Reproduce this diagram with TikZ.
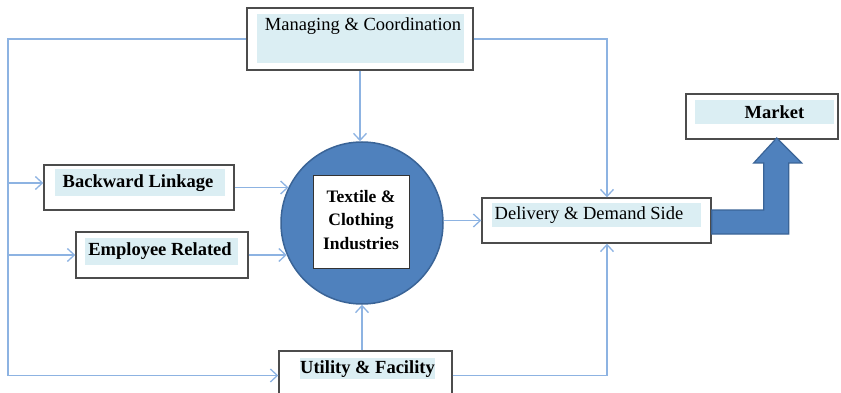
\documentclass[tikz,border=0pt]{standalone}
\usepackage{fontspec}
\setmainfont{Liberation Serif}
\usetikzlibrary{arrows.meta}
\definecolor{linkblue}{HTML}{8DB3E2}
\definecolor{tintblue}{HTML}{DBEEF3}
\definecolor{hubblue}{HTML}{4F81BD}
\definecolor{hubedge}{HTML}{3A6497}
\tikzset{
  box/.style={draw=black!70, line width=1.4pt, fill=white},
  tint/.style={fill=tintblue, inner sep=0pt},
  word/.style={font=\fontsize{18.5}{22}\selectfont, inner sep=0pt},
  boldword/.style={font=\fontsize{18.5}{22}\selectfont\bfseries, inner sep=0pt},
  link/.style={draw=linkblue, line width=1.3pt, -{Straight Barb[length=7pt,width=13pt]}},
  trunk/.style={draw=linkblue, line width=1.3pt},
}
\begin{document}
\begin{tikzpicture}[x=1pt,y=-1pt]
\useasboundingbox (0,0) rectangle (841,393);
% outer boxes
\node(Managing) [box, minimum width=226pt, minimum height=62pt] at (360,39)     {};
\node(Backward) [box, minimum width=190pt, minimum height=45pt] at (139,187.5)  {};
\node(Employee) [box, minimum width=172pt, minimum height=46pt] at (162,255)    {};
\node(Delivery) [box, minimum width=229pt, minimum height=45pt] at (596.5,220.5) {};
\node(Market)   [box, minimum width=152pt, minimum height=45pt] at (762,116.5)  {};
\node(Utility)  [box, minimum width=173pt, minimum height=49pt] at (365.5,375.5) {};
% tinted strips
\node(ManagingTint) [tint, minimum width=207pt, minimum height=49pt] at (360.5,38.5) {};
\node(BackwardTint) [tint, minimum width=170pt, minimum height=27pt] at (140,182.5)  {};
\node(EmployeeTint) [tint, minimum width=153pt, minimum height=27pt] at (161.5,251.5) {};
\node(DeliveryTint) [tint, minimum width=209pt, minimum height=24pt] at (596.5,215)  {};
\node(MarketTint)   [tint, minimum width=139pt, minimum height=24pt] at (764.5,112)  {};
\node(UtilityTint)  [tint, minimum width=135pt, minimum height=21pt] at (367.5,368.5) {};
% texts
\node[word]     at (363,26)    {Managing \& Coordination};
\node[boldword] at (138,183)   {Backward Linkage};
\node[boldword] at (160,251)   {Employee Related};
\node[word]     at (589,215)   {Delivery \& Demand Side};
\node[boldword] at (774.5,112) {Market};
\node[boldword] at (367.5,369) {Utility \& Facility};
% hub
\node(Hub) [circle, fill=hubblue, draw=hubedge, line width=1.5pt, minimum size=162pt, inner sep=0pt] at (362,223) {};
\node(Textile) [draw=black!80, line width=1pt, fill=white, minimum width=96pt, minimum height=92pt] at (361,222) {};
\node[boldword, font=\fontsize{17.5}{23.5}\selectfont\bfseries, align=center] at (361,220) {Textile \&\\Clothing\\Industries};
% connectors
\coordinate(TrunkTop) at (8,39);
\coordinate(TrunkA)   at (8,183);
\coordinate(TrunkB)   at (8,255);
\coordinate(TrunkC)   at (8,375.5);
\draw[trunk] (Managing.west) -- (TrunkTop) -- (TrunkC);
\draw[link]  (TrunkA) -- (TrunkA -| Backward.west);
\draw[link]  (TrunkB) -- (TrunkB -| Employee.west);
\draw[link]  (TrunkC) -- (Utility.west);
\draw[link]  (Backward.east) -- (Backward.east -| Hub.154);
\draw[link]  (Employee.east) -- (Employee.east -| Hub.203);
\draw[link]  (Managing.south) -- (Managing.south |- Hub.north);
\draw[link]  (Utility.north -| Hub.south) -- (Hub.south);
\draw[link]  (Hub.east |- Delivery.west) -- (Delivery.west);
\draw[link]  (Managing.east) -| ([xshift=10.5pt]Delivery.north);
\draw[link]  (Utility.east) -| ([xshift=10.5pt]Delivery.south);
% thick arrow to market
\draw[fill=hubblue, draw=hubedge, line width=1.2pt, line join=miter]
  ([yshift=10.5pt]Delivery.east) -- ++(52,0) -- ++(0,-47) -- ++(-10,0) -- ++(23,-25)
  -- ++(25,25) -- ++(-13,0) -- ++(0,71) -- ++(-77,0) -- cycle;
\end{tikzpicture}
\end{document}
